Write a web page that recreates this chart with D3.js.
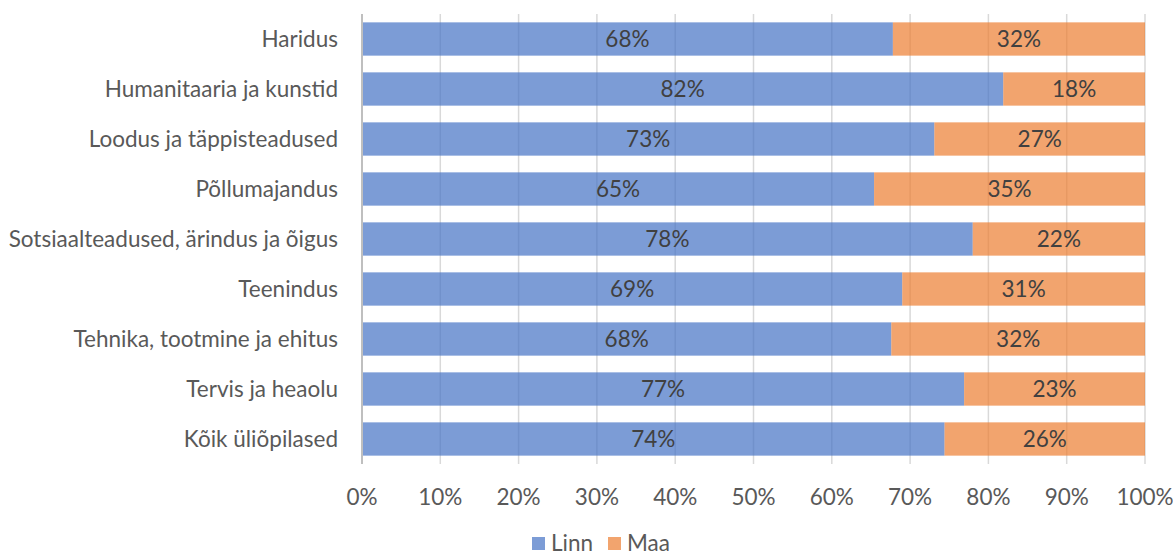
<!DOCTYPE html>
<html><head><meta charset="utf-8">
<script src="https://cdn.jsdelivr.net/npm/d3@7"></script>
<style>body{margin:0;background:#fff;font-family:Lato,"Open Sans",sans-serif;}</style>
</head><body><svg id="c" width="1173" height="557"></svg>
<script>
const categories = ["Haridus","Humanitaaria ja kunstid","Loodus ja täppisteadused","Põllumajandus","Sotsiaalteadused, ärindus ja õigus","Teenindus","Tehnika, tootmine ja ehitus","Tervis ja heaolu","Kõik üliõpilased"];
const linn = [67.8, 81.9, 73.1, 65.4, 78.0, 69.0, 67.6, 76.9, 74.4];
const maa  = [32.2, 18.1, 26.9, 34.6, 22.0, 31.0, 32.4, 23.1, 25.6];
const seriesNames = ["Linn","Maa"];
const colors = ["#4472C4","#ED7D31"];
const xTicks = [0,10,20,30,40,50,60,70,80,90,100];

const FS = 22.5;
const svg = d3.select("#c");
const m = {l:362, r:1145, t:14, b:464};
const x = d3.scaleLinear().domain([0,100]).range([m.l, m.r]);
const y = d3.scaleBand().domain(categories).range([m.t, m.b]).paddingInner(0.334).paddingOuter(0.167);

svg.append("g").selectAll("line").data(xTicks.slice(1)).join("line")
  .attr("x1", d=>x(d)).attr("x2", d=>x(d)).attr("y1", m.t).attr("y2", m.b)
  .attr("stroke","#D9D9D9").attr("stroke-width",1.5);

const rows = categories.map((c,i)=>({c, vals:[linn[i], maa[i]]}));
const stack = [];
rows.forEach(r=>{ let s=0; r.vals.forEach((v,k)=>{ stack.push({c:r.c,k,x0:s,x1:s+v,v}); s+=v; }); });

svg.append("g").selectAll("rect").data(stack).join("rect")
  .attr("x", d=>x(d.x0)).attr("width", d=>x(d.x1)-x(d.x0))
  .attr("y", d=>y(d.c)).attr("height", y.bandwidth())
  .attr("fill", d=>colors[d.k]).attr("fill-opacity",0.7);

svg.append("g").selectAll("text").data(stack).join("text")
  .attr("x", d=>(x(d.x0)+x(d.x1))/2).attr("y", d=>y(d.c)+y.bandwidth()/2)
  .attr("dy","0.35em").attr("text-anchor","middle")
  .attr("font-size",FS).attr("fill","#404040")
  .text(d=>Math.round(d.v)+"%");

svg.append("line").attr("x1",m.l).attr("x2",m.l).attr("y1",m.t).attr("y2",m.b)
  .attr("stroke","#BFBFBF").attr("stroke-width",2);

svg.append("g").selectAll("text").data(categories).join("text")
  .attr("x", m.l-24).attr("y", d=>y(d)+y.bandwidth()/2).attr("dy","0.35em")
  .attr("text-anchor","end").attr("font-size",FS).attr("fill","#595959").text(d=>d);

svg.append("g").selectAll("text").data(xTicks).join("text")
  .attr("x", d=>x(d)).attr("y", 497).attr("dy","0.35em")
  .attr("text-anchor","middle").attr("font-size",FS).attr("fill","#595959").text(d=>d+"%");

const lg = svg.append("g");
const lx = [532, 608];
seriesNames.forEach((n,i)=>{
  lg.append("rect").attr("x",lx[i]).attr("y",537).attr("width",13).attr("height",13)
    .attr("fill",colors[i]).attr("fill-opacity",0.7);
  lg.append("text").attr("x",lx[i]+19).attr("y",543).attr("dy","0.35em")
    .attr("font-size",FS).attr("fill","#595959").text(n);
});
</script></body></html>
